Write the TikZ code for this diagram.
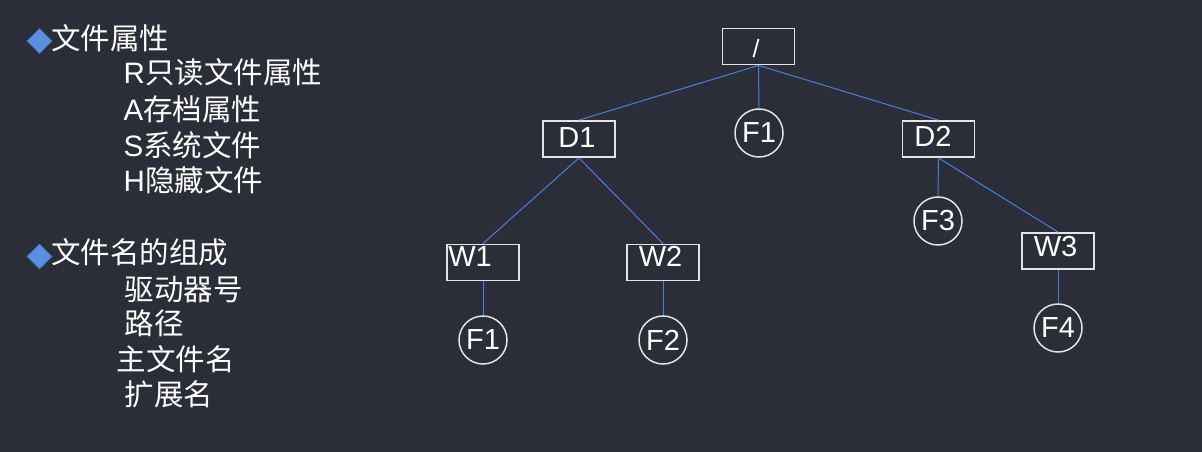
\documentclass[tikz,border=0pt]{standalone}
\usepackage{fontspec}
\setmainfont{Liberation Sans}
\newfontfamily\cjk{Noto Sans CJK SC}
\usetikzlibrary{shapes.geometric}
\definecolor{bg}{RGB}{43,46,56}
\definecolor{edgeblue}{RGB}{74,127,214}
\definecolor{bulletblue}{RGB}{91,143,224}
\definecolor{bulletedge}{RGB}{70,115,190}
\definecolor{framegray}{RGB}{228,228,228}
\begin{document}
\begin{tikzpicture}[x=1pt,y=-1pt,
  txt/.style={font=\fontsize{29.5}{34}\selectfont, text=white, anchor=base west, inner sep=0pt},
  bul/.style={diamond, fill=bulletblue, draw=bulletedge, line width=0.8pt, minimum width=25pt, minimum height=25pt, inner sep=0pt},
  dirbox/.style={draw=framegray, line width=1.8pt, minimum width=72pt, minimum height=36pt, inner sep=0pt, text=white, font=\fontsize{29}{34}\selectfont},
  filec/.style={circle, draw=framegray, line width=1.5pt, minimum size=48pt, inner sep=0pt, text=white, font=\fontsize{29}{34}\selectfont},
  conn/.style={draw=edgeblue, line width=1pt}
]
\fill[bg] (0,0) rectangle (1202,452);
\useasboundingbox (0,0) rectangle (1202,452);

% left column
\node[bul] (b1) at (39.5,41) {};
\node[txt] (h1) at (51,50) {\cjk 文件属性};
\node[txt] (r) at (123.5,84) {R{\cjk 只读文件属性}};
\node[txt] (a) at (123.5,120) {A{\cjk 存档属性}};
\node[txt] (s) at (123.5,156) {S{\cjk 系统文件}};
\node[txt] (h) at (123.5,191) {H{\cjk 隐藏文件}};

\node[bul] (b2) at (39.5,256.5) {};
\node[txt] (h2) at (51,263) {\cjk 文件名的组成};
\node[txt] (q) at (124.5,300) {\cjk 驱动器号};
\node[txt] (l) at (124.5,334) {\cjk 路径};
\node[txt] (z) at (116.5,370) {\cjk 主文件名};
\node[txt] (k) at (124.5,405) {\cjk 扩展名};

% tree
\node[dirbox, font=\fontsize{25}{30}\selectfont, text height=23pt, text depth=0pt] (root) at (758.5,46.5) {/\kern5pt};
\node[dirbox, text depth=3pt] (d1) at (579,139) {D1\kern4pt};
\node[filec] (f1a) at (759,133) {F1};
\node[dirbox, text depth=5pt] (d2) at (938.5,139) {D2\kern11pt};
\node[dirbox, text depth=12pt] (w1) at (483,262.5) {W1\kern26pt};
\node[dirbox, text depth=13pt] (w2) at (663,262.5) {W2\kern5pt};
\node[filec] (f3) at (938,221) {F3};
\node[dirbox, text depth=10pt] (w3) at (1058,251) {W3\kern5pt};
\node[filec] (f1b) at (483,340) {F1};
\node[filec] (f2) at (663,340) {F2};
\node[filec] (f4) at (1058,328) {F4};

\draw[conn] (root.south) -- (d1.north);
\draw[conn] (root.south) -- (f1a.north);
\draw[conn] (root.south) -- (d2.north);
\draw[conn] (d1.south) -- (w1.north);
\draw[conn] (d1.south) -- (w2.north);
\draw[conn] (w1.south) -- (f1b.north);
\draw[conn] (w2.south) -- (f2.north);
\draw[conn] (d2.south) -- (f3.north);
\draw[conn] (d2.south) -- (w3.north);
\draw[conn] (w3.south) -- (f4.north);
\end{tikzpicture}
\end{document}
